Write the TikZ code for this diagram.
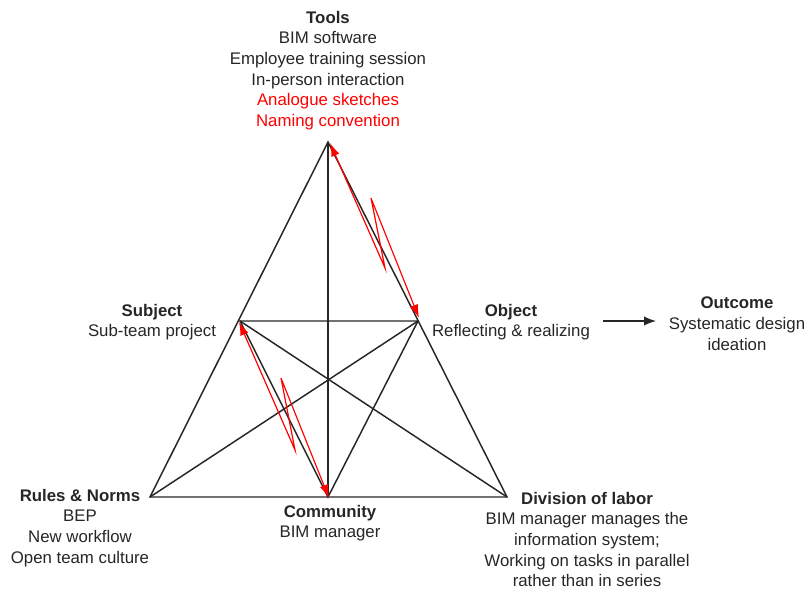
\documentclass[tikz,border=0pt]{standalone}
\usepackage{fontspec}
\setmainfont{Liberation Sans}
\usetikzlibrary{arrows.meta}
\begin{document}
\begin{tikzpicture}[x=0.75pt,y=-0.75pt,
  edge/.style={draw=black!85, line width=1.1pt},
  flow/.style={draw=red, line width=0.9pt, line join=miter},
  lbl/.style={align=center, inner sep=0pt, font=\fontsize{12.6}{15.4}\selectfont, text=black!85},
  tip/.style={-{Latex[length=9pt,width=7pt]}},
  redtip/.style={{Latex[length=10pt,width=6.5pt]}-{Latex[length=10pt,width=6.5pt]}}]
\useasboundingbox (0,0) rectangle (808,592);

% vertices of the activity triangle
\coordinate (T) at (328,142);
\coordinate (S) at (240,321);
\coordinate (O) at (418,321);
\coordinate (R) at (150,497);
\coordinate (C) at (328,497);
\coordinate (D) at (507,497);

% outer triangle and inner connections
\draw[edge] (T) -- (R) -- (D) -- cycle;
\draw[edge] (T) -- (C);
\draw[edge] (S) -- (O) -- (C) -- cycle;
\draw[edge] (S) -- (D);
\draw[edge] (O) -- (R);

% contradiction arrows
\coordinate (a0) at (330,143);
\coordinate (a1) at (385,268);
\coordinate (a2) at (371,198);
\coordinate (a3) at (419,318);
\draw[flow, redtip] (a0) -- (a1) -- (a2) -- (a3);
\coordinate (b0) at (239,322);
\coordinate (b1) at (295,450);
\coordinate (b2) at (281,378);
\coordinate (b3) at (329,498);
\draw[flow, redtip] (b0) -- (b1) -- (b2) -- (b3);

% labels
\node[lbl, anchor=north] (tools) at (328,11) {\textbf{Tools}\\BIM software\\Employee training session\\In-person interaction\\\textcolor{red}{Analogue sketches}\\\textcolor{red}{Naming convention}};
\node[lbl] (subject) at (152,322) {\textbf{Subject}\\Sub-team project};
\node[lbl] (object) at (511,322) {\textbf{Object}\\Reflecting \& realizing};
\node[lbl, anchor=north] (outcome) at (737,297) {\textbf{Outcome}\\Systematic design\\ideation};
\node[lbl, anchor=north] (rules) at (80,489) {\textbf{Rules \& Norms}\\BEP\\New workflow\\Open team culture};
\node[lbl, anchor=north] (community) at (330,505) {\textbf{Community}\\BIM manager};
\node[lbl, anchor=north] (division) at (587,492) {\textbf{Division of labor}\\BIM manager manages the\\information system;\\Working on tasks in parallel\\rather than in series};

\coordinate (oa) at (603,321);
\coordinate (ob) at (656,321);
\draw[edge, line width=0.9pt, tip] (oa) -- (ob);
\end{tikzpicture}
\end{document}
